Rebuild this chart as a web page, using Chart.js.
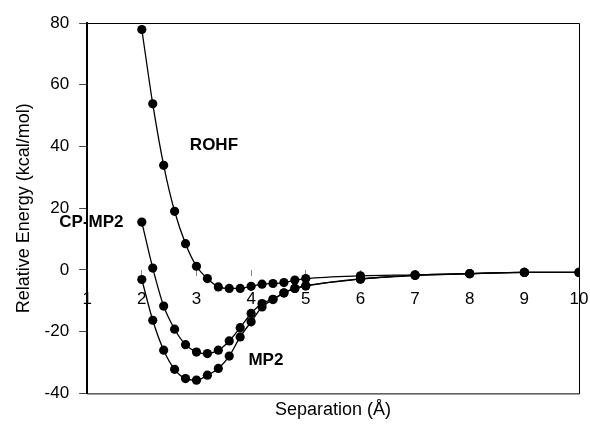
<!DOCTYPE html>
<html>
<head>
<meta charset="utf-8">
<script src="https://cdn.jsdelivr.net/npm/chart.js@4/dist/chart.umd.min.js"></script>
<style>
  html, body { margin: 0; padding: 0; background: #fff; }
  #wrap { width: 590px; height: 439px; }
</style>
</head>
<body>
<div id="wrap"><canvas id="c" width="590" height="439"></canvas></div>
<script>
// Separation (Å)
const separations = [2.0, 2.2, 2.4, 2.6, 2.8, 3.0, 3.2, 3.4, 3.6, 3.8, 4.0, 4.2, 4.4, 4.6, 4.8, 5.0, 6, 7, 8, 9, 10];
// Relative energy (kcal/mol)
const rohf  = [77.9, 53.8, 33.9, 19.0, 8.5, 1.2, -2.8, -5.5, -6.0, -6.0, -5.3, -4.6, -4.4, -4.1, -3.3, -2.8, -1.9, -1.6, -1.2, -0.8, -0.8];
const cpmp2 = [15.5, 0.6, -11.7, -19.2, -24.2, -26.6, -27.1, -26.0, -23.0, -18.7, -14.1, -10.9, -9.5, -7.4, -6.0, -5.1, -3.0, -1.7, -1.2, -0.8, -0.8];
const mp2   = [-3.1, -16.3, -26.0, -32.2, -35.2, -35.7, -34.1, -31.9, -27.9, -21.7, -16.8, -12.0, -9.6, -7.5, -6.0, -5.2, -2.9, -1.8, -1.2, -0.8, -0.8];
const seriesNames = ["ROHF", "CP-MP2", "MP2"];
const xTicks = [1, 2, 3, 4, 5, 6, 7, 8, 9, 10];
const yTicks = [-40, -20, 0, 20, 40, 60, 80];
// curve labels anchored in data coordinates
const curveLabels = [
  { text: "ROHF",   x: 3.32, y: 40.4,  align: "center" },
  { text: "CP-MP2", x: 0.49, y: 15.4,  align: "left" },
  { text: "MP2",    x: 4.27, y: -29.2, align: "center" }
];

const FONT = "'Liberation Sans', Arial, Helvetica, sans-serif";

function pts(ys) { return separations.map((x, i) => ({ x: x, y: ys[i] })); }

function ds(label, ys) {
  return {
    label: label,
    data: pts(ys),
    borderColor: "#000",
    backgroundColor: "#000",
    borderWidth: 1.3,
    pointRadius: 4.6,
    pointBorderWidth: 0,
    pointBackgroundColor: "#000",
    cubicInterpolationMode: "monotone",
    fill: false
  };
}

const frame = {
  id: "frame",
  afterDraw(chart) {
    const a = chart.chartArea, ctx = chart.ctx;
    ctx.save();
    ctx.strokeStyle = "#000";
    ctx.lineWidth = 1;
    ctx.beginPath();
    ctx.moveTo(a.left, a.top + 0.5);
    ctx.lineTo(a.right + 0.5, a.top + 0.5);
    ctx.lineTo(a.right + 0.5, a.bottom + 0.5);
    ctx.lineTo(a.left, a.bottom + 0.5);
    ctx.stroke();
    // curve labels
    const xs = chart.scales.x, ys = chart.scales.y;
    ctx.fillStyle = "#000";
    ctx.font = "bold 17px " + FONT;
    ctx.textBaseline = "middle";
    curveLabels.forEach(l => {
      ctx.textAlign = l.align;
      ctx.fillText(l.text, xs.getPixelForValue(l.x), ys.getPixelForValue(l.y));
    });
    ctx.restore();
  }
};

new Chart(document.getElementById("c"), {
  type: "line",
  data: { datasets: [ds(seriesNames[0], rohf), ds(seriesNames[1], cpmp2), ds(seriesNames[2], mp2)] },
  options: {
    responsive: false,
    animation: false,
    layout: { padding: { left: 0, right: 11, top: 23, bottom: 0 } },
    plugins: {
      legend: { display: false },
      tooltip: { enabled: false },
      title: {
        display: true,
        position: "bottom",
        fullSize: false,
        text: "Separation (Å)",
        color: "#000",
        font: { family: FONT, size: 18, weight: "normal" },
        padding: { top: 6, bottom: 18 }
      }
    },
    scales: {
      x: {
        type: "linear",
        position: { y: 0 },
        min: 1, max: 10,
        afterFit(s) { s.height = 0; s.paddingLeft = 0; s.paddingRight = 0; },
        afterBuildTicks(s) { s.ticks = xTicks.map(v => ({ value: v })); },
        border: { display: false },
        grid: { drawOnChartArea: false, drawTicks: true, tickLength: 6, color: "#888", lineWidth: 1 },
        ticks: { color: "#000", padding: 13, maxRotation: 0, autoSkip: false, font: { family: FONT, size: 17 } }
      },
      y: {
        type: "linear",
        position: "left",
        min: -40, max: 80,
        afterBuildTicks(s) { s.ticks = yTicks.map(v => ({ value: v })); },
        border: { display: true, color: "#000", width: 2 },
        grid: { drawOnChartArea: false, drawTicks: true, tickLength: 8, color: "#444" },
        ticks: { color: "#000", padding: 10, font: { family: FONT, size: 17 } },
        title: {
          display: true,
          text: "Relative Energy (kcal/mol)",
          color: "#000",
          font: { family: FONT, size: 18, weight: "normal" },
          padding: { top: 13, bottom: 0 }
        }
      }
    }
  },
  plugins: [frame]
});
</script>
</body>
</html>
